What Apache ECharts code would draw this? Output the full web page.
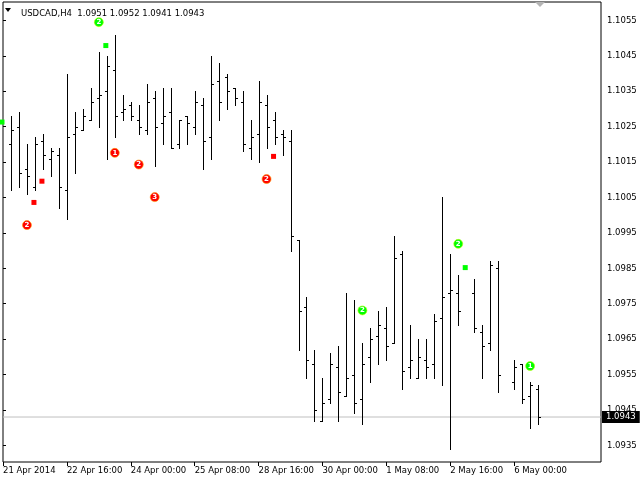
<!DOCTYPE html>
<html><head><meta charset="utf-8">
<script src="https://cdn.jsdelivr.net/npm/echarts@6/dist/echarts.min.js"></script>
<style>html,body{margin:0;padding:0;background:#fff}#c{width:640px;height:480px}</style>
</head><body><div id="c"></div>
<script>
const symbolName = 'USDCAD,H4';
// bar index 0 is at the left edge; null = no visible bar
const opens = [null,1.1020,1.1025,1.1013,1.1008,1.1021,1.1016,1.1017,1.1007,1.1023,1.1024,1.1027,1.1033,1.1035,1.1041,1.1029,1.1031,1.1027,1.1024,1.1033,1.1026,1.1029,1.1020,1.1028,1.1025,1.1031,1.1022,1.1038,1.1039,1.1036,1.1032,1.1019,1.1023,1.1031,1.1027,1.1023,1.1021,1.0993,1.0974,1.0958,1.0942,1.0948,1.0957,1.0949,1.0955,1.0948,1.0960,1.0966,1.0968,1.0964,1.0989,1.0957,1.0954,1.0959,1.0958,1.0971,1.0978,1.0978,null,1.0978,1.0967,1.0964,1.0985,null,1.0953,1.0958,1.0949,1.0951];
const highs = [null,1.1028,1.1029,1.1020,1.1022,1.1023,1.1019,1.1019,1.1040,1.1029,1.1030,1.1036,1.1046,1.1045,1.1051,1.1034,1.1032,1.1031,1.1037,1.1035,1.1036,1.1036,1.1027,1.1028,1.1035,1.1033,1.1045,1.1043,1.1040,1.1036,1.1035,1.1027,1.1038,1.1034,1.1029,1.1024,1.1024,1.0993,1.0977,1.0962,1.0954,1.0961,1.0963,1.0978,1.0976,1.0964,1.0968,1.0973,1.0974,1.0994,1.0990,1.0969,1.0965,1.0965,1.0972,1.1005,1.0989,1.0983,null,1.0982,1.0969,1.0987,1.0987,null,1.0959,1.0958,1.0953,1.0952];
const lows = [null,1.1007,1.1008,1.1006,1.1007,1.1013,1.1011,1.1002,1.0999,1.1012,1.1024,1.1027,1.1025,1.1016,1.1022,1.1027,1.1027,1.1023,1.1023,1.1014,1.1020,1.1019,1.1019,1.1020,1.1023,1.1013,1.1016,1.1027,1.1030,1.1031,1.1018,1.1016,1.1015,1.1019,1.1020,1.1017,1.0990,1.0962,1.0954,1.0942,1.0942,1.0947,1.0942,1.0949,1.0944,1.0941,1.0953,1.0958,1.0959,1.0964,1.0951,1.0954,1.0954,1.0954,1.0954,1.0952,1.0934,1.0969,null,1.0967,1.0954,1.0962,1.0950,null,1.0951,1.0947,1.0940,1.0941];
const closes = [null,1.1024,1.1012,1.1011,1.1020,1.1017,1.1018,1.1008,1.1022,1.1025,1.1028,1.1032,1.1034,1.1042,1.1028,1.1030,1.1028,1.1025,1.1032,1.1025,1.1028,1.1019,1.1027,1.1026,1.1032,1.1021,1.1037,1.1032,1.1035,1.1033,1.1020,1.1022,1.1032,1.1025,1.1022,1.1022,1.0994,1.0973,1.0959,1.0945,1.0947,1.0958,1.0950,1.0954,1.0947,1.0958,1.0965,1.0969,1.0963,1.0988,1.0956,1.0959,1.0960,1.0957,1.0970,1.0977,1.0979,1.0973,null,1.0968,1.0963,1.0986,1.0955,null,1.0957,1.0948,1.0952,1.0943];

const tickBars = [0,8,16,24,32,40,48,56,64];
const tickLabels = ['21 Apr 2014','22 Apr 16:00','24 Apr 00:00','25 Apr 08:00','28 Apr 16:00','30 Apr 00:00','1 May 08:00','2 May 16:00','6 May 00:00'];
const priceTicks = [1.0935,1.0945,1.0955,1.0965,1.0975,1.0985,1.0995,1.1005,1.1015,1.1025,1.1035,1.1045,1.1055];
const currentPrice = 1.0943;

// indicator markers: [bar, price, digit]
const redCircles = [[3,1.09972,'2'],[14,1.10176,'1'],[17,1.10143,'2'],[19,1.10051,'3'],[33,1.10102,'2']];
const greenCircles = [[12,1.10545,'2'],[45,1.09731,'2'],[57,1.09919,'2'],[66,1.09574,'1']];
const redSquares = [[4,1.10036],[5,1.10096],[34,1.10166]];
const greenSquares = [[0,1.10263],[13,1.10479],[58,1.09852]];

const FONT = 'DejaVu Sans';
const FS = 8.5;
const X_MIN = 0, X_MAX = 74.875;
const ohlc = [];
for (let i = 0; i < opens.length; i++) {
  if (opens[i] == null) continue;
  ohlc.push([i, opens[i], highs[i], lows[i], closes[i]]);
}
const last = ohlc[ohlc.length - 1];
const header = symbolName + '  ' + [last[1], last[2], last[3], last[4]].map(v => v.toFixed(4)).join(' ');

const chart = echarts.init(document.getElementById('c'), null, {renderer: 'canvas'});
function circleSeries(data, color, border) {
  return {
    type: 'scatter', data: data, symbol: 'circle', symbolSize: 9, z: 5,
    itemStyle: {color: color, borderColor: border, borderWidth: 0.6, opacity: 1},
    label: {show: true, position: 'inside', formatter: p => p.data[2], color: '#fff', fontSize: 7, fontWeight: 'bold', fontFamily: FONT},
    emphasis: {disabled: true}
  };
}
function squareSeries(data, color) {
  return {
    type: 'scatter', data: data, symbol: 'rect', symbolSize: 5, symbolOffset: [-1, 0], z: 5,
    itemStyle: {color: color, opacity: 1}, emphasis: {disabled: true}
  };
}
chart.setOption({
  animation: false,
  backgroundColor: '#fff',
  title: {text: header, left: 16, top: 4, textStyle: {fontSize: FS, fontWeight: 'normal', color: '#000', fontFamily: FONT}},
  graphic: [
    {type: 'polygon', shape: {points: [[5, 8], [11, 8], [8, 12]]}, style: {fill: '#000'}},
    {type: 'polygon', shape: {points: [[535, 2], [545, 2], [540, 7]]}, style: {fill: '#b4b4b4'}}
  ],
  grid: {left: 2, right: 39, top: 2, bottom: 18, show: true, borderColor: '#000', borderWidth: 1, backgroundColor: '#fff'},
  xAxis: {
    type: 'value', min: X_MIN, max: X_MAX,
    axisLine: {show: false},
    splitLine: {show: false},
    axisTick: {show: true, customValues: tickBars, length: 4, lineStyle: {color: '#000'}},
    axisLabel: {customValues: tickBars, formatter: v => tickLabels[tickBars.indexOf(v)] || '', align: 'left', margin: 4, color: '#000', fontSize: FS, fontFamily: FONT}
  },
  yAxis: {
    type: 'value', position: 'right', min: 1.09303, max: 1.10602,
    axisLine: {show: false},
    splitLine: {show: false},
    axisTick: {show: true, customValues: priceTicks, length: 3, lineStyle: {color: '#000'}},
    axisLabel: {customValues: priceTicks, formatter: v => v.toFixed(4), margin: 6, color: '#000', fontSize: FS, fontFamily: FONT}
  },
  series: [
    {
      type: 'line', data: [[X_MIN, currentPrice], [X_MAX, currentPrice]], silent: true, z: 2,
      symbol: 'none', showSymbol: false, clip: false,
      lineStyle: {color: '#c0c0c0', width: 1},
      endLabel: {show: true, distance: 1, formatter: currentPrice.toFixed(4), color: '#fff', backgroundColor: '#000', padding: [2, 4, 1, 4], fontSize: FS, fontFamily: FONT},
      emphasis: {disabled: true}
    },
    {
      type: 'custom', data: ohlc, clip: true, z: 3,
      encode: {x: 0, y: [1, 2, 3, 4]},
      renderItem: function (params, api) {
        const x = api.value(0);
        const pH = api.coord([x, api.value(2)]);
        const pL = api.coord([x, api.value(3)]);
        const pO = api.coord([x, api.value(1)]);
        const pC = api.coord([x, api.value(4)]);
        const X = Math.round(pH[0]);
        const cx = X + 0.5;
        const yO = Math.round(pO[1]) + 0.5, yC = Math.round(pC[1]) + 0.5;
        const st = {stroke: '#000', lineWidth: 1};
        return {type: 'group', children: [
          {type: 'line', shape: {x1: cx, y1: Math.round(pH[1]), x2: cx, y2: Math.round(pL[1]) + 1}, style: st},
          {type: 'line', shape: {x1: X - 2, y1: yO, x2: X + 1, y2: yO}, style: st},
          {type: 'line', shape: {x1: X, y1: yC, x2: X + 3, y2: yC}, style: st}
        ]};
      }
    },
    circleSeries(redCircles, '#ff0000', '#ff9900'),
    circleSeries(greenCircles, '#00ff00', '#bbff00'),
    squareSeries(redSquares, '#ff0000'),
    squareSeries(greenSquares, '#00ff00')
  ]
});
</script></body></html>
